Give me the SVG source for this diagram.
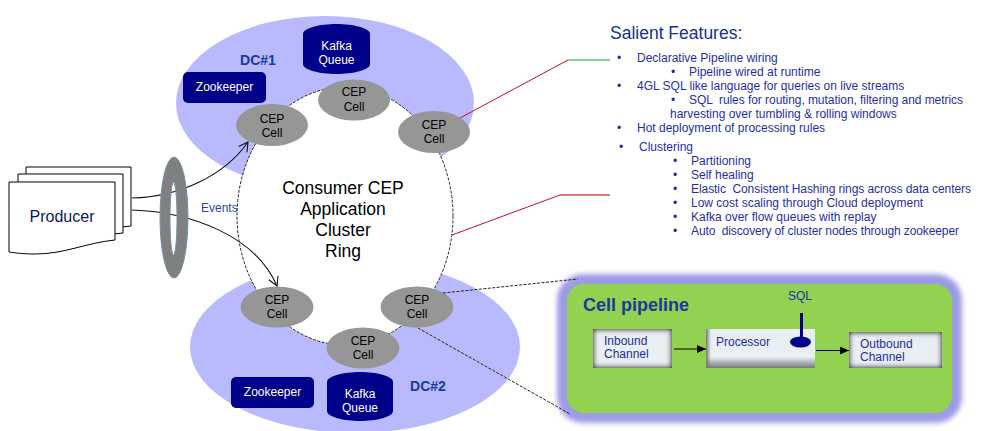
<svg xmlns="http://www.w3.org/2000/svg" width="999" height="431" viewBox="0 0 999 431">
<style>
text{font-family:"Liberation Sans",Arial,sans-serif}
.dc{fill:#b9b9fd}
.cell{fill:#969696}
.ct{font-size:12px;fill:#000;text-anchor:middle}
.navy{fill:#00008b}
.wt{font-size:12px;fill:#fff;text-anchor:middle}
.dct{font-size:14px;font-weight:bold;fill:#1a3a9c;text-anchor:middle}
.doc{fill:#fff;stroke:#000;stroke-width:1}
.f{font-size:12px;fill:#1f2fa8;white-space:pre}
.bx{font-size:12px;fill:#1f2fa8}
.ctr{font-size:17.5px;fill:#000;text-anchor:middle}
.ln{fill:none;stroke:#111;stroke-width:1.1}
.dash{fill:none;stroke:#222;stroke-width:1;stroke-dasharray:3 1.5}
</style>
<defs>
<marker id="open" markerWidth="12" markerHeight="12" refX="10" refY="6" orient="auto" markerUnits="userSpaceOnUse"><path d="M1 1L10 6L1 11" fill="none" stroke="#111" stroke-width="1.1"/></marker>
<marker id="solid" markerWidth="10" markerHeight="8" refX="9" refY="4" orient="auto" markerUnits="userSpaceOnUse"><path d="M0 0L9 4L0 8Z" fill="#000"/></marker>
<filter id="glow" x="-10%" y="-20%" width="120%" height="140%"><feGaussianBlur stdDeviation="2.6"/></filter>
<filter id="soft" x="-30%" y="-10%" width="160%" height="120%"><feGaussianBlur stdDeviation="0.6"/></filter>
<filter id="inset" x="-20%" y="-40%" width="140%" height="180%">
<feMorphology in="SourceAlpha" operator="erode" radius="2" result="e"/>
<feFlood flood-color="#4a4a4a"/><feComposite in2="e" operator="out"/><feGaussianBlur stdDeviation="2"/><feComposite in2="SourceAlpha" operator="in" result="s"/>
<feMerge><feMergeNode in="SourceGraphic"/><feMergeNode in="s"/></feMerge></filter>
<linearGradient id="pb" x1="0" y1="0" x2="0" y2="1"><stop offset="0.72" stop-color="#e8eef2"/><stop offset="1" stop-color="#777"/></linearGradient>
<linearGradient id="pl" x1="0" y1="0" x2="1" y2="0"><stop offset="0" stop-color="#777"/><stop offset="1" stop-color="#777" stop-opacity="0"/></linearGradient>
</defs>

<ellipse class="dc" cx="325" cy="103" rx="149" ry="87"/>
<ellipse class="dc" cx="355" cy="347" rx="165" ry="86"/>
<ellipse id="ring" cx="345" cy="216" rx="108" ry="129" fill="#fff" stroke="#222" stroke-width="1" stroke-dasharray="3 1.5"/>

<g id="dc1-label"><text class="dct" x="258" y="65">DC#1</text></g>
<g id="dc2-label"><text class="dct" x="428" y="391">DC#2</text></g>

<g id="kafka1"><path class="navy" d="M303 34C303 28 320 24 336.500 24C353 24 370 28 370 34V64C370 70 353 74 336.500 74C320 74 303 70 303 64Z"/><text class="wt" x="336.500" y="50">Kafka</text><text class="wt" x="336.500" y="64">Queue</text></g>
<g id="zookeeper1"><rect class="navy" x="183" y="72" width="83" height="31" rx="5"/><text class="wt" x="224.500" y="91">Zookeeper</text></g>
<g id="cell1"><ellipse class="cell" cx="272" cy="125" rx="36" ry="21"/><text class="ct" x="272" y="123">CEP</text><text class="ct" x="272" y="137">Cell</text></g>
<g id="cell2"><ellipse class="cell" cx="354" cy="100" rx="36" ry="20.500"/><text class="ct" x="354" y="96">CEP</text><text class="ct" x="354" y="111">Cell</text></g>
<g id="cell3"><ellipse class="cell" cx="434" cy="132" rx="36" ry="21"/><text class="ct" x="434" y="129">CEP</text><text class="ct" x="434" y="143">Cell</text></g>
<g id="cell4"><ellipse class="cell" cx="277" cy="307" rx="36.500" ry="20.500"/><text class="ct" x="277" y="304">CEP</text><text class="ct" x="277" y="318">Cell</text></g>
<g id="cell5"><ellipse class="cell" cx="417" cy="307" rx="36.500" ry="20.500"/><text class="ct" x="417" y="304">CEP</text><text class="ct" x="417" y="318">Cell</text></g>
<g id="cell6"><ellipse class="cell" cx="363" cy="348" rx="36.500" ry="20.500"/><text class="ct" x="363" y="345">CEP</text><text class="ct" x="363" y="359">Cell</text></g>
<g id="kafka2"><path class="navy" d="M327 382C327 376 344 372 360 372C376 372 393 376 393 382V411C393 417 376 421 360 421C344 421 327 417 327 411Z"/><text class="wt" x="360" y="398">Kafka</text><text class="wt" x="360" y="412">Queue</text></g>
<g id="zookeeper2"><rect class="navy" x="231" y="377" width="83" height="31" rx="5"/><text class="wt" x="272.500" y="396">Zookeeper</text></g>

<g id="center-label">
<text class="ctr" x="343" y="194">Consumer CEP</text>
<text class="ctr" x="343" y="215">Application</text>
<text class="ctr" x="343" y="236">Cluster</text>
<text class="ctr" x="343" y="257">Ring</text>
</g>

<g id="producer">
<path class="doc" d="M26 167H131V226C105 228 90 234 60 238H26Z"/>
<path class="doc" d="M18 174H123V233C100 235 85 240 55 245H18Z"/>
<path class="doc" d="M9 182H115V240C85 243 65 254 35 254C25 254 15 253 9 252Z"/>
<text x="62" y="222" font-size="16" text-anchor="middle" fill="#0a1a60">Producer</text>
</g>

<g id="features">
<text x="610" y="39" font-size="17.500" fill="#1a3090">Salient Features:</text>
<text class="f" x="617" y="62">•</text><text class="f" x="637" y="62">Declarative Pipeline wiring</text>
<text class="f" x="671" y="76">•</text><text class="f" x="689" y="76">Pipeline wired at runtime</text>
<text class="f" x="617" y="90">•</text><text class="f" x="637" y="90">4GL SQL like language for queries on live streams</text>
<text class="f" x="671" y="104">•</text><text class="f" x="689" y="104" textLength="274">SQL  rules for routing, mutation, filtering and metrics</text>
<text class="f" x="670" y="118">harvesting over tumbling &amp; rolling windows</text>
<text class="f" x="617" y="132">•</text><text class="f" x="637" y="132">Hot deployment of processing rules</text>
<text class="f" x="619" y="151">•</text><text class="f" x="639" y="151">Clustering</text>
<text class="f" x="673" y="165">•</text><text class="f" x="691" y="165">Partitioning</text>
<text class="f" x="673" y="179">•</text><text class="f" x="691" y="179">Self healing</text>
<text class="f" x="673" y="193">•</text><text class="f" x="691" y="193" textLength="280">Elastic  Consistent Hashing rings across data centers</text>
<text class="f" x="673" y="207">•</text><text class="f" x="691" y="207">Low cost scaling through Cloud deployment</text>
<text class="f" x="673" y="221">•</text><text class="f" x="691" y="221">Kafka over flow queues with replay</text>
<text class="f" x="673" y="235">•</text><text class="f" x="691" y="235" textLength="268">Auto  discovery of cluster nodes through zookeeper</text>
</g>

<g id="cell-pipeline">
<rect x="557" y="274" width="405" height="149" rx="26" fill="#9c9ce4" filter="url(#glow)"/>
<rect x="567" y="284" width="385" height="129" rx="17" fill="#92d250"/>
<text x="583" y="311" font-size="18" font-weight="bold" fill="#1a3a9c">Cell pipeline</text>
</g>
<g id="inbound"><rect x="593" y="329" width="79" height="39" fill="#e8eef2" filter="url(#inset)"/><text class="bx" x="604" y="345">Inbound</text><text class="bx" x="604" y="358">Channel</text></g>
<g id="processor"><rect x="706" y="329" width="109" height="39" fill="url(#pb)"/><rect x="706" y="329" width="5" height="39" fill="url(#pl)"/><text class="bx" x="716" y="346">Processor</text></g>
<g id="sql"><text x="800" y="300" font-size="12" text-anchor="middle" fill="#1f2fa8">SQL</text><rect class="navy" x="800" y="313" width="3" height="27"/><ellipse class="navy" cx="800.500" cy="342" rx="10.500" ry="5.500"/></g>
<g id="outbound"><rect x="849" y="332" width="93" height="36" fill="#e8eef2" filter="url(#inset)"/><text class="bx" x="860" y="348">Outbound</text><text class="bx" x="860" y="361">Channel</text></g>

<g id="connectors">
<path d="M460 118L568 60" fill="none" stroke="#c0102a" stroke-width="1"/>
<path d="M568 60H610" fill="none" stroke="#10a040" stroke-width="1"/>
<path d="M452 235L560 195" fill="none" stroke="#c0102a" stroke-width="1"/>
<path d="M560 195H610" fill="none" stroke="#900" stroke-width="1"/>
<path d="M443 293L578 279" class="dash"/>
<path d="M418 328L570 414" class="dash"/>
<path d="M132 198C180 197 225 175 248 142" class="ln" marker-end="url(#open)"/>
<path d="M132 210C190 212 255 235 277 286" class="ln" marker-end="url(#open)"/>
<path d="M674 349H706" class="ln" marker-end="url(#solid)"/>
<path d="M816 350.500H849" class="ln" marker-end="url(#solid)"/>
</g>

<g id="events-ring">
<path d="M160 217.500A14 60.500 0 0 1 188 217.500A14 60.500 0 0 1 160 217.500ZM170 218.500A3.500 36.500 0 0 0 177 218.500A3.500 36.500 0 0 0 170 218.500Z" fill="#808080" fill-rule="evenodd" stroke="#6f93a8" stroke-width="1" filter="url(#soft)"/>
<text x="201" y="212" font-size="12" fill="#2a3fb0">Events</text>
</g>
</svg>
